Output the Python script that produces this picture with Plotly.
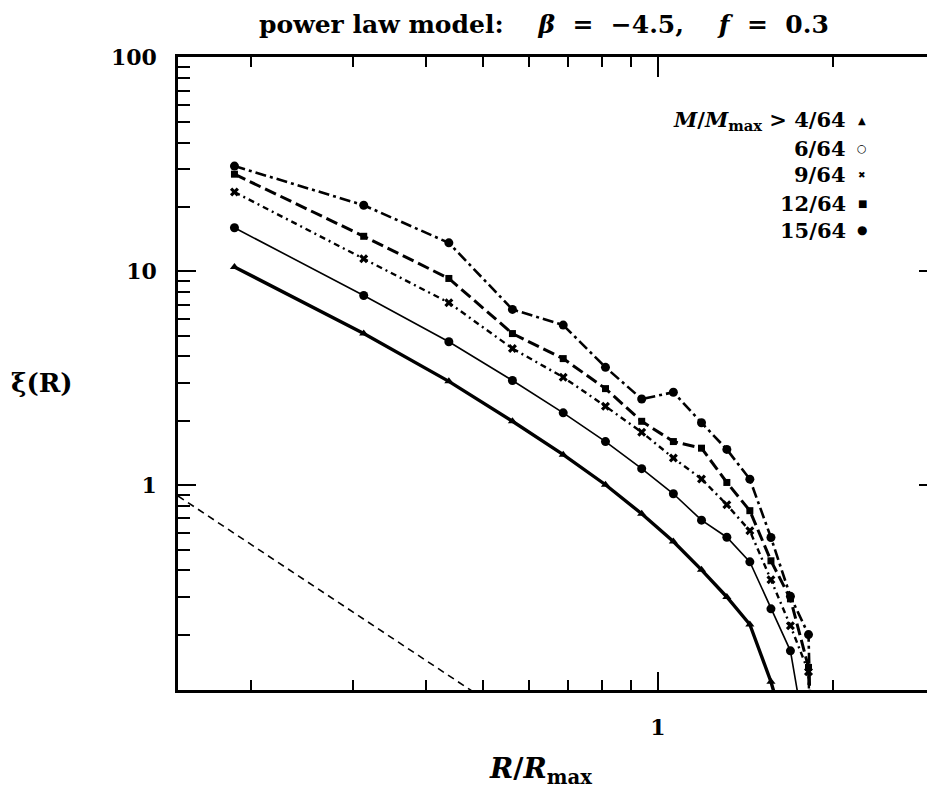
import plotly.graph_objects as go

# ---- data ----
R = [0.1875, 0.3125, 0.4375, 0.5625, 0.6875, 0.8125, 0.9375, 1.0625,
     1.1875, 1.3125, 1.4375, 1.5625, 1.6875, 1.8125, 1.9375]
xi_4 = [10.5, 5.12, 3.06, 1.99, 1.39, 1.005, 0.735, 0.545, 0.402, 0.300,
        0.223, 0.1205, 0.058]
xi_6 = [16.0, 7.72, 4.69, 3.09, 2.18, 1.60, 1.195, 0.912, 0.686, 0.571,
        0.438, 0.264, 0.168, 0.054]
xi_9 = [23.5, 11.47, 7.14, 4.36, 3.20, 2.34, 1.77, 1.34, 1.07, 0.810,
        0.612, 0.361, 0.220, 0.134, 0.0001]
xi_12 = [28.5, 14.6, 9.27, 5.12, 3.91, 2.83, 1.99, 1.60, 1.49, 1.03,
         0.760, 0.443, 0.294, 0.1405, 0.0001]
xi_15 = [31.1, 20.4, 13.6, 6.64, 5.61, 3.56, 2.53, 2.72, 1.96, 1.47,
         1.067, 0.569, 0.302, 0.200, 0.0001]
ref_R = [0.15, 0.5]
ref_xi = [0.89, 0.101]

labels = ["4/64", "6/64", "9/64", "12/64", "15/64"]
legend_glyphs = ["▲", "○", "✖", "■", "●"]

x_major = [1]
x_minor = [0.2, 0.3, 0.4, 0.5, 0.6, 0.7, 0.8, 0.9, 2, 3]
y_major = [1, 10, 100]
y_minor = [0.2, 0.3, 0.4, 0.5, 0.6, 0.7, 0.8, 0.9,
           2, 3, 4, 5, 6, 7, 8, 9, 20, 30, 40, 50, 60, 70, 80, 90]

FONT = "DejaVu Serif"
BLACK = "black"
CLEAR = "rgba(0,0,0,0)"
XR = [-0.8239, 0.4771]
YR = [-0.958, 2.003]

# page body has an 8px margin: figure coords = screen coords - 8
L, T = 170, 49
PW, PH = 758, 633
W, H = 935, 809

series = [
    (xi_4, dict(width=3.4, dash="solid"), dict(symbol="triangle-up", size=8)),
    (xi_6, dict(width=1.6, dash="solid"), dict(symbol="circle", size=9)),
    (xi_9, dict(width=2.4, dash="6px,4px,2px,4px"), dict(symbol="x", size=8)),
    (xi_12, dict(width=3.0, dash="12px,5px"), dict(symbol="square", size=7)),
    (xi_15, dict(width=2.6, dash="11px,4px,3px,4px"), dict(symbol="circle", size=9)),
]

fig = go.Figure()
for ys, line, marker in series:
    fig.add_trace(go.Scatter(
        x=R[:len(ys)], y=ys, mode="lines+markers",
        line=dict(color=BLACK, **line),
        marker=dict(color=BLACK, **marker),
        showlegend=False,
    ))

# reference power law on a twin subplot that carries the top/right ticks
fig.add_trace(go.Scatter(
    x=ref_R, y=ref_xi, mode="lines", xaxis="x2", yaxis="y2",
    line=dict(color=BLACK, width=1.6, dash="7px,5px"),
    showlegend=False,
))

tickfont = dict(family=FONT, size=22, color=BLACK, weight="bold")
hidden_font = dict(family=FONT, size=10, color=CLEAR)
common = dict(showgrid=False, zeroline=False, automargin=False,
              tickwidth=2.2, domain=[0, 1])

fig.update_layout(
    width=W, height=H,
    margin=dict(l=L, r=W - L - PW, t=T, b=H - T - PH, autoexpand=False),
    paper_bgcolor="white", plot_bgcolor=CLEAR,
    xaxis=dict(
        type="log", range=XR, tickvals=x_major, ticktext=["1"], anchor="y",
        ticks="inside", ticklen=18, showline=True, linewidth=2.5,
        linecolor=BLACK, mirror=True, tickfont=tickfont, tickcolor=BLACK,
        ticklabelstandoff=16,
        minor=dict(tickvals=x_minor, ticks="inside", ticklen=10,
                   tickwidth=2.2, tickcolor=BLACK, showgrid=False),
        **common,
    ),
    xaxis2=dict(
        type="log", range=XR, side="top", anchor="y2",
        tickvals=x_major, ticktext=["1"], ticks="inside", ticklen=20,
        showline=False, showticklabels=True, tickcolor=BLACK,
        tickfont=hidden_font, ticklabelposition="inside",
        minor=dict(tickvals=x_minor, ticks="inside", ticklen=10,
                   tickwidth=2.2, tickcolor=BLACK, showgrid=False),
        **common,
    ),
    yaxis=dict(
        type="log", range=YR, tickvals=y_major, ticktext=["1", "10", "100"],
        anchor="x", ticks="inside", ticklen=18, showline=True, linewidth=2.5,
        linecolor=BLACK, mirror=False, tickfont=tickfont, tickcolor=BLACK,
        ticklabelstandoff=14,
        minor=dict(tickvals=y_minor, ticks="inside", ticklen=12,
                   tickwidth=2.2, tickcolor=BLACK, showgrid=False),
        **common,
    ),
    yaxis2=dict(
        type="log", range=YR, side="right", anchor="x2",
        tickvals=y_major, ticktext=["1", "10", "100"], ticks="inside",
        ticklen=17, showline=False, showticklabels=True, tickcolor=BLACK,
        tickfont=hidden_font, ticklabelposition="inside",
        minor=dict(tickvals=y_minor, ticks="inside", ticklen=9,
                   tickwidth=2.2, tickcolor=BLACK, showgrid=False),
        **common,
    ),
)


def px_x(fx):
    return (fx - L) / PW


def px_y(fy):
    return 1 - (fy - T) / PH


ann_font = dict(family=FONT, size=21, color=BLACK, weight="bold")

# title
fig.add_annotation(
    text="power law model:&nbsp;&nbsp;&nbsp;&nbsp;<i>β</i>&nbsp;&nbsp;=&nbsp;&nbsp;−4.5,"
         "&nbsp;&nbsp;&nbsp;&nbsp;<i>f</i>&nbsp;&nbsp;=&nbsp;&nbsp;0.3",
    xref="paper", yref="paper", x=px_x(536), y=px_y(16),
    xanchor="center", yanchor="middle", showarrow=False,
    font=dict(family=FONT, size=25, color=BLACK, weight="bold"),
)
# axis titles
fig.add_annotation(
    text="<i>R</i>/<i>R</i><sub>max</sub>", xref="paper", yref="paper",
    x=px_x(532), y=px_y(762), xanchor="center", yanchor="middle",
    showarrow=False, font=dict(family=FONT, size=28, color=BLACK, weight="bold"),
)
fig.add_annotation(
    text="ξ(R)", xref="paper", yref="paper",
    x=px_x(34), y=px_y(375), xanchor="center", yanchor="middle",
    showarrow=False, font=dict(family=FONT, size=26, color=BLACK, weight="bold"),
)

# custom legend (text right-aligned, symbol to the right)
row_y = [112, 140, 167, 195, 222]
glyph_sizes = [10, 11, 9, 10, 12]
for i, (lab, glyph) in enumerate(zip(labels, legend_glyphs)):
    txt = ("<i>M</i>/<i>M</i><sub>max</sub> &gt; " + lab) if i == 0 else lab
    fig.add_annotation(
        text=txt, xref="paper", yref="paper", x=px_x(840), y=px_y(row_y[i]),
        xanchor="right", yanchor="middle", showarrow=False, font=ann_font,
    )
    fig.add_annotation(
        text=glyph, xref="paper", yref="paper", x=px_x(854), y=px_y(row_y[i]),
        xanchor="center", yanchor="middle", showarrow=False,
        font=dict(family="DejaVu Sans", size=glyph_sizes[i], color=BLACK),
    )

fig.write_html("out.html")
